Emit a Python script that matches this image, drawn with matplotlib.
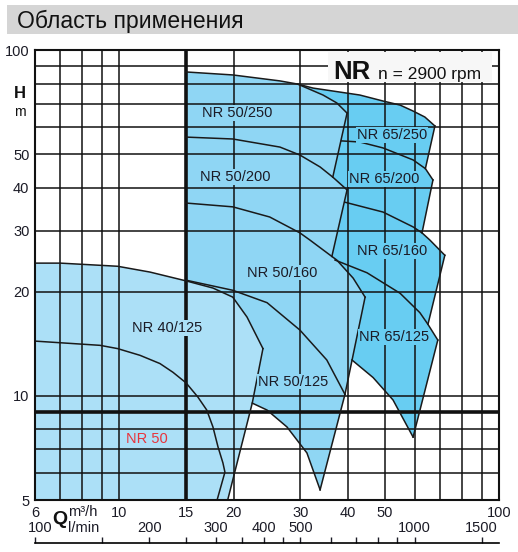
import numpy as np
import matplotlib.pyplot as plt
import matplotlib.transforms as mtransforms
from matplotlib.patches import Polygon, Rectangle
from matplotlib.ticker import NullLocator

plt.rcParams['font.family'] = ['Liberation Sans', 'DejaVu Sans']

W, H = 518, 552

# grid and ticks
q_grid = [7, 8, 9, 10, 20, 30, 40, 50, 60, 70, 80, 90]
h_grid = [6, 7, 8, 10, 20, 30, 40, 50, 60, 70, 80, 90]
q_thick = 15
h_thick = 9
q_ticks = [6, 10, 15, 20, 30, 40, 50, 100]
h_ticks = [5, 10, 20, 30, 40, 50, 100]
lmin_major = [100, 200, 300, 400, 500, 1000, 1500]
lmin_minor = [150, 250, 350, 450, 600, 700, 800, 900]

# curves, Q in m3/h, H in m
nr40_top_q = [6, 7, 9.9, 12.05, 15, 17.65, 19.9, 21.7, 23.9]
nr40_top_h = [24.2, 24.2, 23.7, 22.8, 21.5, 20.5, 19.3, 16.9, 13.7]
nr40_edge_q = [23.9, 22.4, 19.3]
nr40_edge_h = [13.7, 9.53, 5.0]
nr50_q = [6, 8.9, 9.9, 11.34, 12.8, 13.85, 15, 16.1, 17.0, 17.65, 18.2, 18.75, 18.98, 18.1]
nr50_h = [14.4, 14.0, 13.7, 13.1, 12.4, 11.7, 10.9, 9.93, 9.10, 8.13, 7.12, 6.40, 6.02, 5.0]

a_q = [15, 19.9, 26.5, 29.5, 34.4, 37.4, 39.8]          # 50/250 max
a_h = [86.4, 84.7, 81.4, 79.7, 74.1, 70.3, 65.7]
e250_q = [39.8, 36.5]
e250_h = [65.7, 42.9]
b_q = [15, 19.9, 26.5, 29.9, 33.8, 36.5, 39.8]          # 50/200 max
b_h = [56.0, 55.3, 52.4, 49.7, 45.9, 42.9, 39.4]
e200_q = [39.8, 36.3]
e200_h = [39.4, 25.3]
c_q = [15, 19.9, 24.9, 29.9, 31.8, 36.3, 37.4, 41.3, 44.4]   # 50/160 max
c_h = [36.1, 35.2, 32.9, 29.6, 28.2, 25.3, 24.7, 21.9, 19.3]
e160_q = [44.4, 39.3]
e160_h = [19.3, 10.1]
d_q = [15, 19.9, 24.5, 29.9, 35.2, 39.3]                # 50/125 max
d_h = [21.6, 20.2, 18.6, 15.5, 12.7, 10.1]
e125_q = [39.3, 33.8]
e125_h = [10.1, 5.35]
f_q = [22.4, 24.5, 27.65, 31.2, 33.8]                   # 50/125 min
f_h = [9.53, 9.10, 8.13, 6.84, 5.35]

g250_q = [29.5, 32.4, 43.0, 49.5, 54.9, 59.4, 63.8, 67.8]
g250_h = [79.7, 77.6, 74.1, 71.2, 69.3, 66.6, 64.0, 60.3]
k250_q = [67.8, 64.0]
k250_h = [60.3, 45.4]
g200_q = [38.5, 43.0, 49.5, 59.4, 64.0, 67.0]
g200_h = [54.6, 54.2, 52.1, 48.1, 45.4, 42.1]
k200_q = [67.0, 62.7]
k200_h = [42.1, 29.6]
g160_q = [39.3, 49.5, 59.4, 62.7, 65.8, 72.0]
g160_h = [36.3, 34.0, 30.8, 29.6, 28.2, 25.5]
k160_q = [72.0, 65.0]
k160_h = [25.5, 16.1]
g125_q = [37.0, 44.9, 54.9, 61.9, 65.0, 69.0]
g125_h = [24.7, 22.7, 19.8, 17.4, 16.1, 14.5]
k125_q = [69.0, 59.4]
k125_h = [14.5, 7.6]
m125_q = [41.0, 46.6, 52.6, 59.4]
m125_h = [12.7, 11.3, 9.73, 7.6]

labels = ['NR 50/250', 'NR 50/200', 'NR 50/160', 'NR 50/125',
          'NR 65/250', 'NR 65/200', 'NR 65/160', 'NR 65/125', 'NR 40/125']
label_q = [20.5, 20.2, 26.8, 28.7, 52.3, 49.8, 52.3, 52.9, 13.4]
label_h = [65.7, 42.9, 22.7, 11.0, 56.8, 42.4, 26.2, 14.8, 15.7]

light = '#ace0f7'
mid = '#8fd6f4'
dark = '#68cdf2'
ink = '#1b1b26'

fig = plt.figure(figsize=(W / 100, H / 100), dpi=100)
ax = fig.add_axes([35 / W, 1 - 500 / H, 464 / W, 450 / H])
ax.set_xscale('log')
ax.set_yscale('log')
ax.set_xlim(6, 100)
ax.set_ylim(5, 100)


def seg(q, h, lo=None):
    pts = list(zip(q, h))
    if lo is not None:
        pts = [p for p in pts if p[0] >= lo]
    return pts


# dark (65 series) outline, left side hidden under the 50 series
dark_pts = (seg(g250_q, g250_h) + seg(g200_q, g200_h, lo=64.0)
            + seg(g160_q, g160_h, lo=62.7) + seg(g125_q, g125_h, lo=65.0)
            + [(59.4, 7.6)] + seg(m125_q, m125_h)[::-1][1:] + [(36, 12.7)])
ax.add_patch(Polygon(dark_pts, closed=True, fc=dark, ec='none', zorder=1))

mid_pts = (seg(a_q, a_h) + [(36.5, 42.9)] + seg(b_q, b_h, lo=39.0)
           + [(36.3, 25.3)] + seg(c_q, c_h, lo=37.0) + [(39.3, 10.1)]
           + seg(f_q, f_h)[::-1] + [(18, 5), (15, 5)])
ax.add_patch(Polygon(mid_pts, closed=True, fc=mid, ec='none', zorder=1.1))

light_pts = [(6, 5)] + seg(nr40_top_q, nr40_top_h) + seg(nr40_edge_q, nr40_edge_h)[1:]
ax.add_patch(Polygon(light_pts, closed=True, fc=light, ec='none', zorder=1.2))

for q in q_grid:
    ax.axvline(q, color='#111111', lw=1.1, zorder=2)
for h in h_grid:
    ax.axhline(h, color='#111111', lw=1.1, zorder=2)
ax.axvline(q_thick, color='#111111', lw=2.6, zorder=2)
ax.axhline(h_thick, color='#111111', lw=2.6, zorder=2)

curves = [(nr40_top_q, nr40_top_h), (nr40_edge_q, nr40_edge_h), (nr50_q, nr50_h),
          (a_q, a_h), (e250_q, e250_h), (b_q, b_h), (e200_q, e200_h),
          (c_q, c_h), (e160_q, e160_h), (d_q, d_h), (e125_q, e125_h), (f_q, f_h),
          (g250_q, g250_h), (k250_q, k250_h), (g200_q, g200_h), (k200_q, k200_h),
          (g160_q, g160_h), (k160_q, k160_h), (g125_q, g125_h), (k125_q, k125_h),
          (m125_q, m125_h)]
for q, h in curves:
    ax.plot(q, h, color='#1a1a1a', lw=1.1, zorder=3, solid_joinstyle='round')

fills = [mid, mid, mid, mid, dark, dark, dark, dark, light]
for txt, q, h, fc in zip(labels, label_q, label_h, fills):
    ax.text(q, h, txt, ha='center', va='center', fontsize=10.5, color=ink, zorder=4,
            bbox=dict(boxstyle='square,pad=0.05', fc=fc, ec='none'))
ax.text(11.8, 7.5, 'NR 50', ha='center', va='center', fontsize=10.5, color='#e8343c',
        zorder=4, bbox=dict(boxstyle='square,pad=0.05', fc=light, ec='none'))

ax.set_xticks(q_ticks, [str(v) for v in q_ticks])
ax.set_yticks(h_ticks, [str(v) for v in h_ticks])
ax.xaxis.set_minor_locator(NullLocator())
ax.yaxis.set_minor_locator(NullLocator())
ax.tick_params(axis='both', length=0, labelsize=10.5, colors=ink)
ax.tick_params(axis='x', pad=4)
ax.tick_params(axis='y', pad=4)
for sp in ax.spines.values():
    sp.set_linewidth(1.5)
    sp.set_color('#111111')
    sp.set_zorder(6)

# l/min scale
ax2 = fig.add_axes([35 / W, 1 - 550 / H, 464 / W, 7 / H])
ax2.set_xscale('log')
ax2.set_xlim(6 / 0.06, 100 / 0.06)
ax2.set_yticks([])
for k in ['left', 'right', 'bottom']:
    ax2.spines[k].set_visible(False)
ax2.spines['top'].set_linewidth(1.2)
ax2.patch.set_alpha(0)
ax2.xaxis.tick_top()
ax2.set_xticks(lmin_major, [str(v) for v in lmin_major])
ax2.set_xticks(lmin_minor, minor=True)
ax2.xaxis.set_minor_formatter(plt.NullFormatter())
ax2.tick_params(axis='x', which='both', direction='out', length=4.5, width=1,
                labelsize=10.5, pad=1, colors=ink)
first = ax2.get_xticklabels(which='major')[0]
first.set_transform(first.get_transform()
                    + mtransforms.ScaledTranslation(0.05, 0, fig.dpi_scale_trans))

# banner and titles
fig.patches.append(Rectangle((7 / W, 1 - 34 / H), 511 / W, 29 / H,
                             transform=fig.transFigure, fc='#d5d5d5', ec='none'))
fig.text(17 / W, 1 - 28 / H, 'Область применения', fontsize=16.5, color='#111111',
         va='baseline', ha='left')

ax.add_patch(Rectangle((328 / W, 1 - 82 / H), 164 / W, 30 / H, transform=fig.transFigure,
                       fc='#f7f7f7', ec='none', zorder=5))
fig.text(333 / W, 1 - 79 / H, 'NR', fontsize=18.5, fontweight='bold', color='#111111',
         va='baseline', ha='left', zorder=7)
fig.text(378 / W, 1 - 79 / H, 'n = 2900 rpm', fontsize=12.5, color='#111111',
         va='baseline', ha='left', zorder=7)

fig.text(20 / W, 1 - 94 / H, 'H', fontsize=12, fontweight='bold', color='#111111',
         ha='center', va='center')
fig.text(20 / W, 1 - 112 / H, 'm', fontsize=10, color='#111111', ha='center', va='center')
fig.text(60 / W, 1 - 520 / H, 'Q', fontsize=14, fontweight='bold', color='#111111',
         ha='center', va='center')
fig.text(68 / W, 1 - 512 / H, 'm³/h', fontsize=10.5, color=ink, ha='left', va='center')
fig.text(68 / W, 1 - 528 / H, 'l/min', fontsize=10.5, color=ink, ha='left', va='center')

fig.savefig('out.png', dpi=100)
